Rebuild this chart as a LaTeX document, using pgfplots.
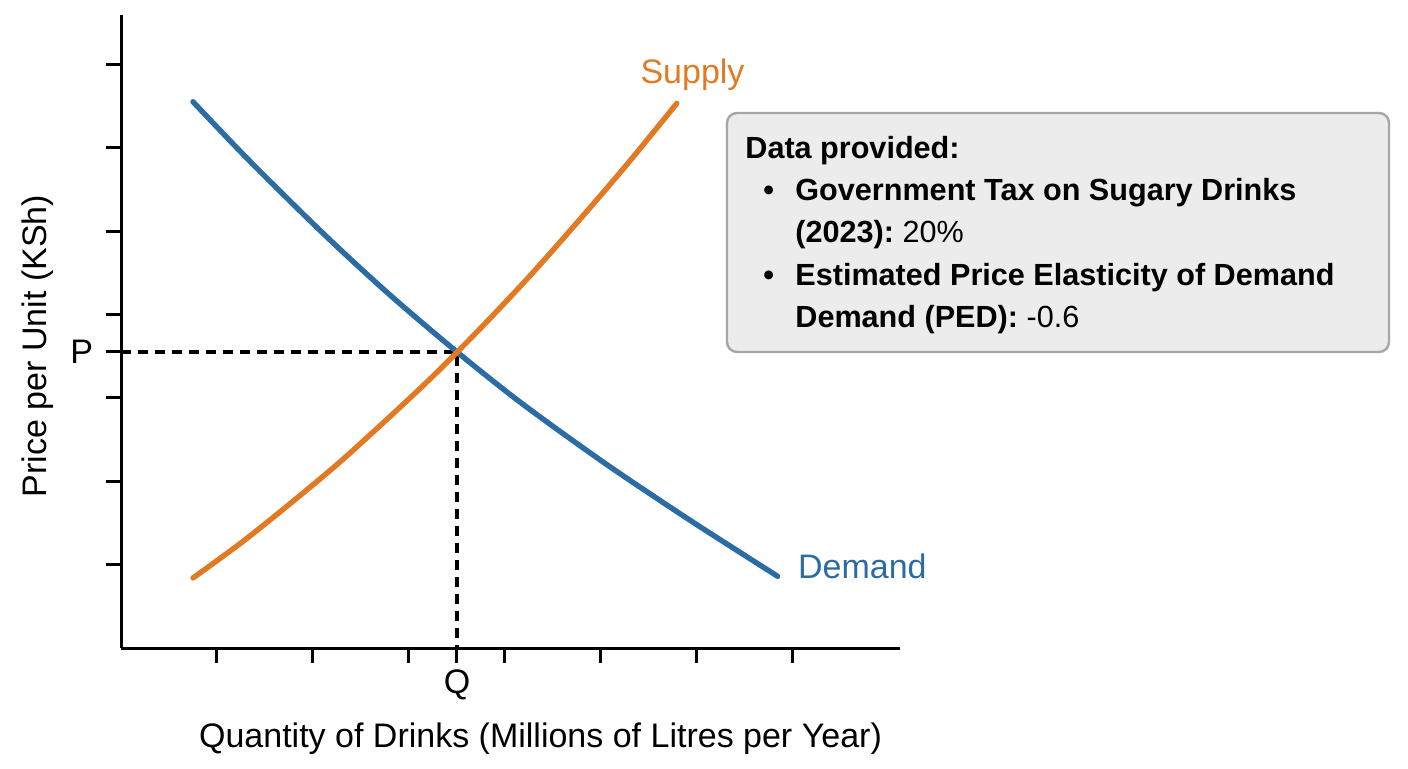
\documentclass[border=0pt]{standalone}
\usepackage{pgfplots}
\pgfplotsset{compat=1.18}
\usepackage{fontspec}
\setmainfont{Liberation Sans}
\definecolor{dblue}{HTML}{2C6CA4}
\definecolor{sorange}{HTML}{E27A24}
\definecolor{boxfill}{HTML}{ECECEC}
\definecolor{boxdraw}{HTML}{A6A6A6}
\begin{document}
\begin{tikzpicture}
\path[use as bounding box] (0,0) rectangle (704pt,384pt);
\begin{axis}[
  at={(60.5pt,60pt)}, anchor=south west,
  scale only axis, width=389.5pt, height=316.5pt,
  xmin=0, xmax=8.115, ymin=0, ymax=7.59,
  axis lines=left,
  axis line style={-, line width=1.5pt, black},
  tick align=outside,
  major tick length=7.5pt,
  every tick/.style={black, line width=1.5pt},
  xtick={1,2,3,3.5,4,5,6,7},
  xticklabels={,,,Q,,,,},
  ytick={1,2,3,3.55,4,5,6,7},
  yticklabels={,,,P,,,,},
  ticklabel style={font=\fontsize{17}{20}\selectfont},
  yticklabel style={xshift=-3pt},
  clip=false,
]
\addplot[black, line width=1.6pt, dash pattern=on 5pt off 3.5pt] coordinates {(0,3.55) (3.5,3.55) (3.5,0)};
\addplot[dblue, line width=2.7pt, smooth, line cap=round] coordinates {
(0.75,6.55) (1.34,5.84) (2.125,4.95) (2.80,4.235) (3.50,3.55) (4.19,2.92) (5.06,2.20) (5.93,1.53) (6.84,0.86)};
\addplot[sorange, line width=2.7pt, smooth, line cap=round] coordinates {
(0.75,0.84) (1.25,1.26) (1.75,1.72) (2.25,2.20) (2.75,2.72) (3.25,3.26) (3.75,3.84) (4.25,4.45) (4.75,5.10) (5.25,5.77) (5.79,6.53)};
\end{axis}
% axis titles
\node[anchor=base, font=\fontsize{17}{20}\selectfont] at (270.25pt,10.5pt) {Quantity of Drinks (Millions of Litres per Year)};
\node[rotate=90, font=\fontsize{17}{20}\selectfont] at (19pt,211pt) {Price per Unit (KSh)};
% curve labels
\node[anchor=base, text=sorange, font=\fontsize{17}{20}\selectfont] at (346.25pt,342.5pt) {Supply};
\node[anchor=base west, text=dblue, font=\fontsize{17}{20}\selectfont] at (395.5pt,95pt) {Demand};
% info box
\draw[boxdraw, fill=boxfill, line width=1.2pt, rounded corners=5pt] (363.5pt,208pt) rectangle (694.5pt,327.5pt);
\begin{scope}[every node/.style={anchor=base west, inner sep=0pt, font=\fontsize{15.3}{18}\selectfont}]
\node at (372.5pt,305pt) {\bfseries Data provided:};
\node at (381.5pt,284pt) {\bfseries\textbullet};
\node at (397.5pt,284pt) {\bfseries Government Tax on Sugary Drinks};
\node at (397.5pt,263pt) {\bfseries (2023):\ \mdseries 20\%};
\node at (381.5pt,241.5pt) {\bfseries\textbullet};
\node at (397.5pt,241.5pt) {\bfseries Estimated Price Elasticity of Demand};
\node at (397.5pt,220.5pt) {\bfseries Demand (PED):\ \mdseries -0.6};
\end{scope}
\end{tikzpicture}
\end{document}
